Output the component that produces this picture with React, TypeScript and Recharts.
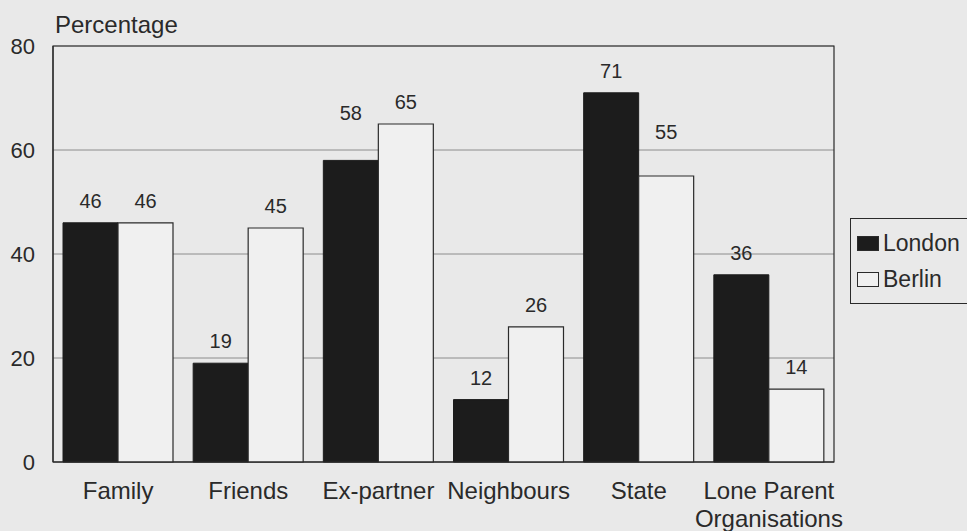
import { BarChart, Bar, XAxis, YAxis, CartesianGrid, Legend, LabelList, ReferenceArea } from 'recharts';

const categories = ['Family', 'Friends', 'Ex-partner', 'Neighbours', 'State', 'Lone Parent Organisations'];
const london = [46, 19, 58, 12, 71, 36];
const berlin = [46, 45, 65, 26, 55, 14];
const seriesNames = ['London', 'Berlin'];
const yTicks = [0, 20, 40, 60, 80];

const data = categories.map((name, i) => ({ name, London: london[i], Berlin: berlin[i] }));

// a couple of value labels sit higher above their bars
const labelLift: Record<string, number> = {
  'London:Ex-partner': 25,
  'Berlin:State': 22,
};

const INK = '#2a2a2a';
const PAPER = '#e9e9e9';
const DARK = '#1c1c1c';
const LIGHT = '#f0f0f0';
const FONT = '"Liberation Sans", Arial, sans-serif';

function wrapWords(text: string, max = 13) {
  const lines: string[] = [];
  let cur = '';
  for (const w of text.split(' ')) {
    const next = cur ? cur + ' ' + w : w;
    if (next.length > max && cur) {
      lines.push(cur);
      cur = w;
    } else {
      cur = next;
    }
  }
  if (cur) lines.push(cur);
  return lines;
}

function CategoryTick({ x, y, payload }: any) {
  const lines = wrapWords(String(payload.value));
  return (
    <text x={x} y={y + 37} textAnchor="middle" fill={INK} fontSize={24} fontFamily={FONT}>
      {lines.map((l, i) => (
        <tspan key={i} x={x} dy={i === 0 ? 0 : 28}>
          {l}
        </tspan>
      ))}
    </text>
  );
}

function valueLabel(series: string) {
  return (props: any) => {
    const { x, y, width, value, index } = props;
    const lift = labelLift[`${series}:${categories[index]}`] || 0;
    return (
      <text
        x={Number(x) + Number(width) / 2}
        y={Number(y) - 15 - lift}
        textAnchor="middle"
        fill={INK}
        fontSize={20}
        fontFamily={FONT}
      >
        {value}
      </text>
    );
  };
}

function LegendBox({ payload }: any) {
  const items = [...(payload || [])].sort(
    (a: any, b: any) => seriesNames.indexOf(a.value) - seriesNames.indexOf(b.value)
  );
  return (
    <div
      style={{
        border: `1px solid ${INK}`,
        background: PAPER,
        padding: '6px 0 6px 6px',
        width: 130,
        fontFamily: FONT,
        fontSize: 23,
        color: INK,
      }}
    >
      {items.map((p: any) => (
        <div key={p.value} style={{ display: 'flex', alignItems: 'center', height: 36 }}>
          <span
            style={{
              display: 'inline-block',
              width: 20,
              height: 13,
              marginRight: 4,
              background: p.value === 'London' ? DARK : LIGHT,
              border: `1px solid ${INK}`,
            }}
          />
          {p.value}
        </div>
      ))}
    </div>
  );
}

export default function App() {
  return (
    <div
      style={{
        position: 'absolute',
        left: 0,
        top: 0,
        width: 967,
        height: 531,
        overflow: 'hidden',
        background: PAPER,
      }}
    >
      <BarChart
        width={967}
        height={531}
        data={data}
        margin={{ top: 46, right: 133, bottom: 0, left: 0 }}
        barSize={55}
        barGap={0}
      >
        <CartesianGrid horizontal vertical={false} stroke="#8c8c8c" strokeWidth={1} />
        <XAxis
          dataKey="name"
          height={69}
          interval={0}
          tickLine={false}
          tickSize={0}
          tickMargin={0}
          axisLine={{ stroke: INK, strokeWidth: 1.2 }}
          tick={<CategoryTick />}
        />
        <YAxis
          width={53}
          domain={[0, 80]}
          ticks={yTicks}
          interval={0}
          tickLine={false}
          tickSize={0}
          tickMargin={18}
          axisLine={{ stroke: INK, strokeWidth: 1.2 }}
          tick={{ fill: INK, fontSize: 22, fontFamily: FONT }}
          label={() => (
            <text x={55} y={33} fill={INK} fontSize={24} fontFamily={FONT} textAnchor="start">
              Percentage
            </text>
          )}
        />
        <Bar dataKey="London" fill={DARK} stroke={DARK} strokeWidth={1} isAnimationActive={false}>
          <LabelList dataKey="London" content={valueLabel('London')} />
        </Bar>
        <Bar dataKey="Berlin" fill={LIGHT} stroke={INK} strokeWidth={1.2} isAnimationActive={false}>
          <LabelList dataKey="Berlin" content={valueLabel('Berlin')} />
        </Bar>
        <ReferenceArea y1={0} y2={80} fill="none" stroke={INK} strokeWidth={1.2} fillOpacity={0} />
        <Legend
          layout="horizontal"
          verticalAlign="middle"
          align="center"
          content={<LegendBox />}
          wrapperStyle={{ left: 850, top: 218, width: 130, right: 'auto', bottom: 'auto' }}
        />
      </BarChart>
    </div>
  );
}
